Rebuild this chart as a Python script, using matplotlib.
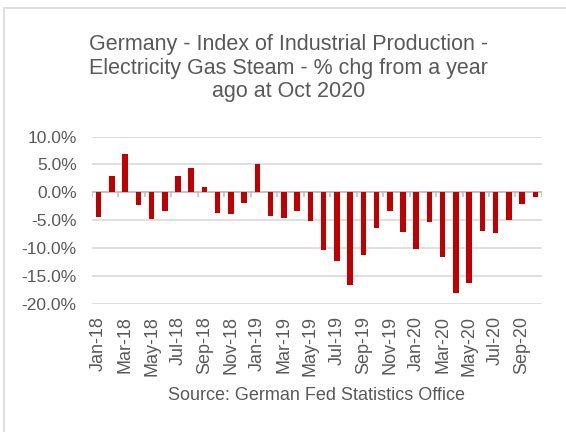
import numpy as np
import matplotlib
matplotlib.use("Agg")
import matplotlib.pyplot as plt
from matplotlib.patches import Rectangle

plt.rcParams['font.family'] = ['Liberation Sans', 'DejaVu Sans']

months = ['Jan-18', 'Feb-18', 'Mar-18', 'Apr-18', 'May-18', 'Jun-18', 'Jul-18', 'Aug-18',
          'Sep-18', 'Oct-18', 'Nov-18', 'Dec-18', 'Jan-19', 'Feb-19', 'Mar-19', 'Apr-19',
          'May-19', 'Jun-19', 'Jul-19', 'Aug-19', 'Sep-19', 'Oct-19', 'Nov-19', 'Dec-19',
          'Jan-20', 'Feb-20', 'Mar-20', 'Apr-20', 'May-20', 'Jun-20', 'Jul-20', 'Aug-20',
          'Sep-20', 'Oct-20']

# % change from a year ago
pct_chg = [-4.5, 3.0, 6.9, -2.2, -4.8, -3.4, 2.9, 4.4,
           0.9, -3.7, -3.9, -2.0, 5.1, -4.3, -4.7, -3.3,
           -5.1, -10.4, -12.4, -16.6, -11.2, -6.5, -3.4, -7.2,
           -10.1, -5.3, -11.6, -18.1, -16.2, -7.0, -7.4, -5.0,
           -2.1, -0.8]

text_col = '#595959'
grid_col = '#d9d9d9'

fig = plt.figure(figsize=(5.66, 4.32), dpi=100)
ax = fig.add_axes([0.1625, 0.297, 0.795, 0.387])

x = np.arange(len(months))
ax.bar(x, pct_chg, width=0.42, color='#c00000', zorder=3)

ax.set_xlim(-0.5, len(months) - 0.5)
ax.set_ylim(-20, 10)
ax.set_yticks(np.arange(-20, 11, 5))
ax.set_yticklabels(['%.1f%%' % v for v in np.arange(-20, 11, 5)])
ax.yaxis.grid(True, color=grid_col, linewidth=1.2, zorder=0)
ax.tick_params(axis='y', length=0, pad=11, labelsize=12.5, labelcolor=text_col)

ax.set_xticks(x[::2])
ax.set_xticklabels(months[::2], rotation=90)
ax.tick_params(axis='x', length=0, pad=9, labelsize=13, labelcolor=text_col)

for s in ax.spines.values():
    s.set_visible(False)

# zero line with small tick marks every two months
ax.axhline(0, color='#bfbfbf', linewidth=1.2, zorder=2)
ax.vlines(np.arange(-0.5, len(months), 2), -0.9, 0, color='#bfbfbf', linewidth=1.2, zorder=2)

fig.text(0.51, 0.842, 'Germany - Index of Industrial Production -\n'
         'Electricity Gas Steam - % chg from a year\nago at Oct 2020',
         ha='center', va='center', fontsize=15.5, color=text_col, linespacing=1.15)
fig.text(0.56, 0.085, 'Source: German Fed Statistics Office',
         ha='center', va='center', fontsize=13, color=text_col)

# chart frame
fig.patches.append(Rectangle((4 / 566, -0.1), 1.2, (432 - 8) / 432 + 0.1,
                             transform=fig.transFigure, fill=False,
                             edgecolor='#d9d9d9', linewidth=1.2))

fig.savefig('out.png', dpi=100)
